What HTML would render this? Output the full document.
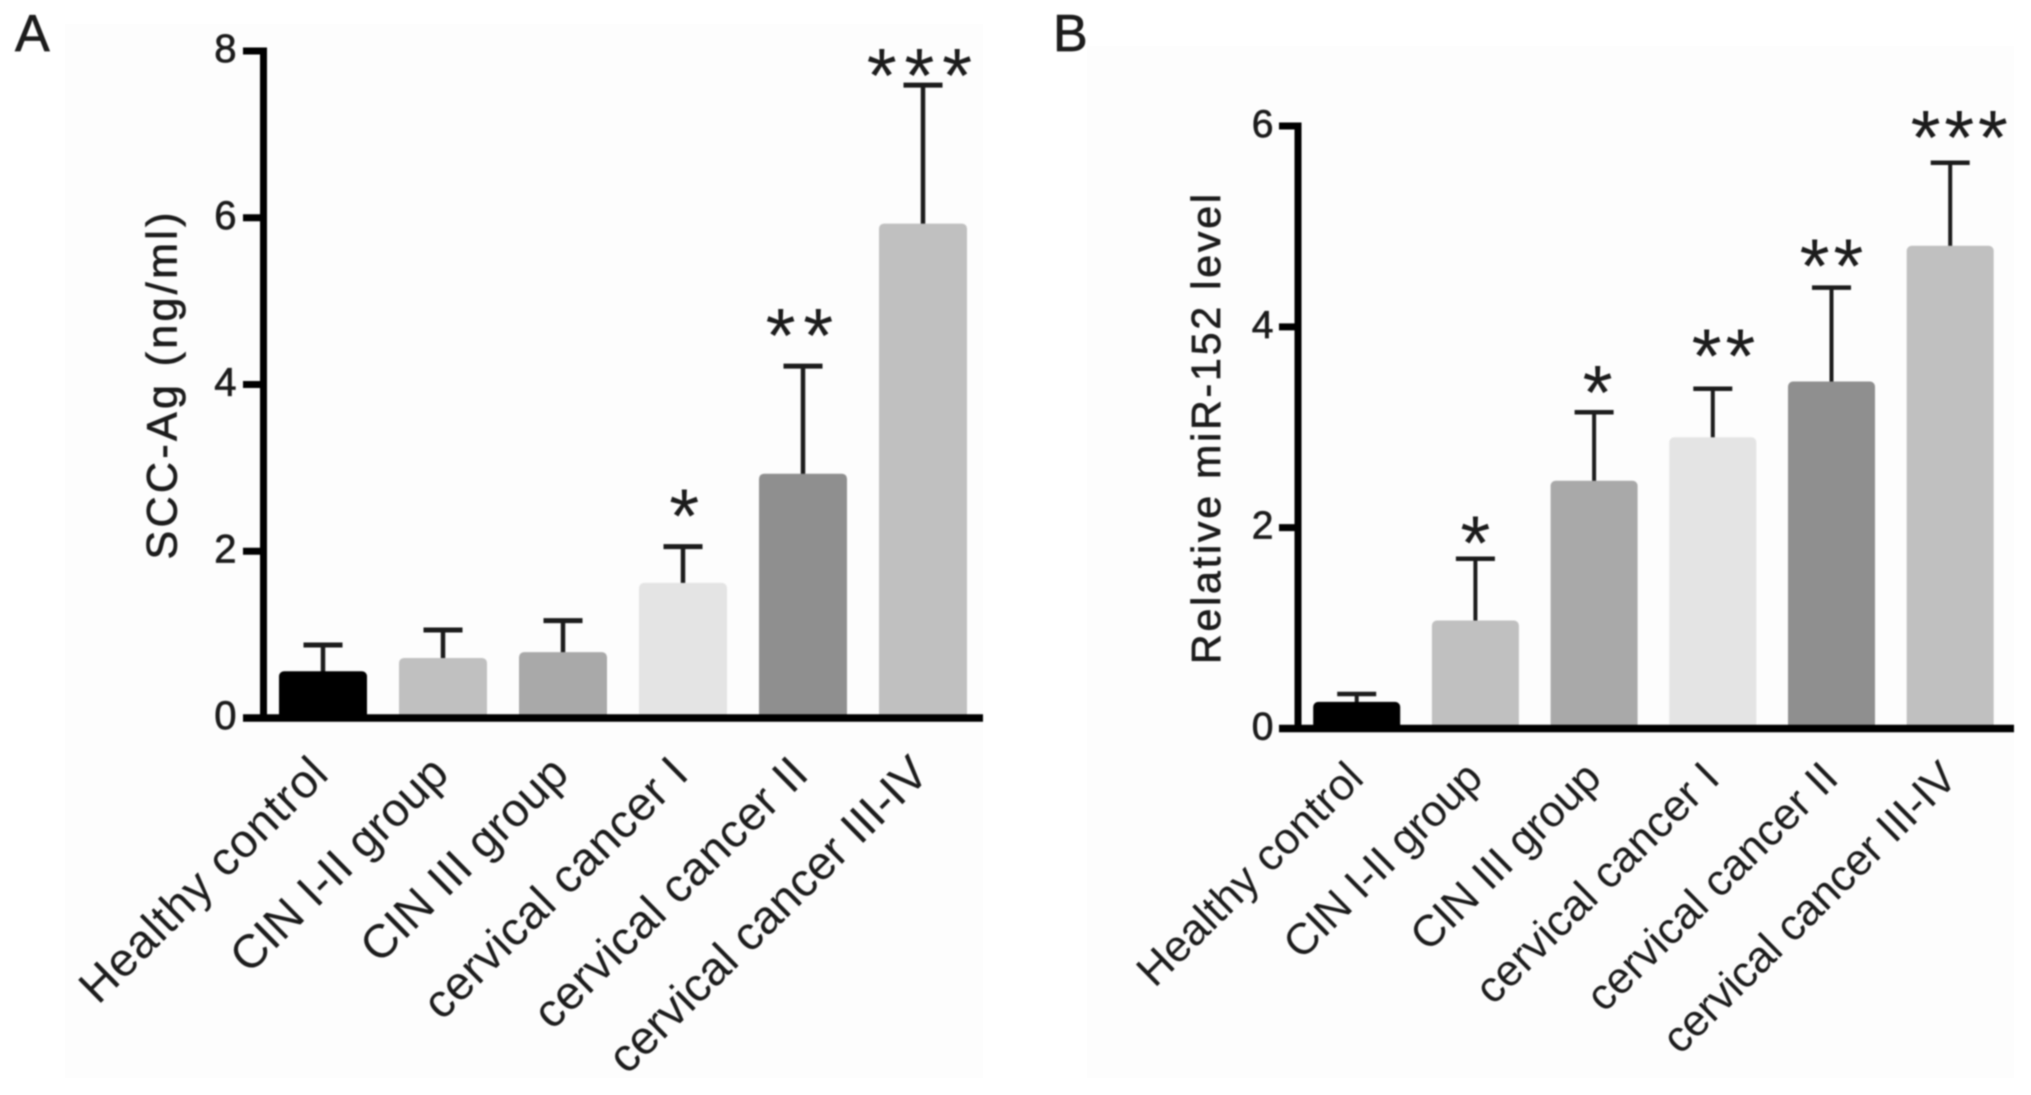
<!DOCTYPE html>
<html lang="en">
<head>
<meta charset="utf-8">
<title>SCC-Ag and miR-152 bar charts</title>
<style>
  html, body { margin: 0; padding: 0; background: #fff; width: 2031px; height: 1095px; overflow: hidden; }
  svg { display: block; position: absolute; left: 0; top: 0; }
  #plots { filter: blur(0.9px); }
  text { font-family: "Liberation Sans", Arial, sans-serif; fill: #1c1c1c; }
  .heavy { stroke: #1c1c1c; stroke-width: 0.7px; }
</style>
</head>
<body>
<svg id="bg" width="2031" height="1095">
  <rect x="65" y="24" width="918" height="1054" fill="#fdfdfd"></rect>
  <rect x="1087" y="46" width="927" height="1032" fill="#fdfdfd"></rect>
</svg>
<svg id="plots" width="2031" height="1095">
  <text class="heavy" x="15" y="51" font-size="52">A</text>
  <text class="heavy" x="1053" y="51" font-size="52">B</text>
  <g id="panelA"></g>
  <g id="panelB"></g>
</svg>
<script>
// ---- Data ----
const categories = ["Healthy control", "CIN I-II group", "CIN III group", "cervical cancer I", "cervical cancer II", "cervical cancer III-IV"];
const barFills = ["#000000", "#c0c0c0", "#a9a9a9", "#e4e4e4", "#8f8f8f", "#c0c0c0"];

const ticksA = [0, 2, 4, 6, 8];
const meansA = [0.56, 0.72, 0.79, 1.62, 2.93, 5.93];
const errorTopsA = [0.875, 1.055, 1.168, 2.056, 4.22, 7.59];
const significanceA = ["", "", "", "*", "**", "***"];
const sigLiftA = [0, 0, 0, 0.5, 0.5, 0.25];    // gap above the error bar, in axis units
const sigShiftA = [0, 0, 0, 0.01, -0.03, -0.03]; // sideways shift, in category widths
const labelTrackingA = [0.9, 0.1, 0.2, 0.6, 0.6, 0.05];
const titleA = "SCC-Ag (ng/ml)";

const ticksB = [0, 2, 4, 6];
const meansB = [0.265, 1.075, 2.467, 2.9, 3.455, 4.807];
const errorTopsB = [0.344, 1.69, 3.15, 3.384, 4.39, 5.634];
const significanceB = ["", "*", "*", "**", "**", "***"];
const sigLiftB = [0, 0.27, 0.31, 0.435, 0.33, 0.365];
const sigShiftB = [0, 0, 0.03, 0.09, 0, 0.076];
const labelTrackingB = [0.2, -0.5, -0.3, 0.2, 0.1, -0.3];
const titleB = "Relative miR-152 level";

// ---- Axis functions ----
function yA(v) { return 718 - v * (718 - 51) / 8; }
function xA(i) { return 323 + i * 120; }
function yB(v) { return 728.5 - v * (728.5 - 126) / 6; }
function xB(i) { return 1356.7 + i * 118.7; }

const NS = "http://www.w3.org/2000/svg";
function make(parent, tag, attrs, txt) {
  const el = document.createElementNS(NS, tag);
  for (const k in attrs) el.setAttribute(k, attrs[k]);
  if (txt !== undefined) el.textContent = txt;
  parent.appendChild(el);
  return el;
}

function drawPanel(root, prefix, opt) {
  const axisX = opt.axisX, y = opt.y, x = opt.x, base = y(0);
  const step = x(1) - x(0);

  // error bars sit behind the bars
  categories.forEach(function (cat, i) {
    const line = make(root, "line", { x1: x(i), x2: x(i), y1: y(opt.means[i]) + 4, y2: y(opt.errors[i]), stroke: "#1c1c1c", "stroke-width": opt.stemWidth });
    
    
    const cap = make(root, "line", { x1: x(i) - 19.5, x2: x(i) + 19.5, y1: y(opt.errors[i]), y2: y(opt.errors[i]), stroke: "#1c1c1c", "stroke-width": opt.capWidth });
    
    
  });

  // bars
  categories.forEach(function (cat, i) {
    const bar = make(root, "rect", { x: x(i) - opt.barWidth / 2, y: y(opt.means[i]), width: opt.barWidth, height: base - y(opt.means[i]) + 2, rx: 5, fill: barFills[i] });
    
    
  });

  // axis lines
  const yAxis = make(root, "line", { x1: axisX, x2: axisX, y1: y(opt.ticks[opt.ticks.length - 1]) - 3.5, y2: base, stroke: "#000", "stroke-width": 7 });
  
  
  const xAxis = make(root, "line", { x1: opt.tickStart, x2: opt.axisEnd, y1: base, y2: base, stroke: "#000", "stroke-width": 7.5 });
  
  

  // ticks and tick labels
  opt.ticks.forEach(function (t) {
    const tick = make(root, "line", { x1: opt.tickStart, x2: axisX, y1: y(t), y2: y(t), stroke: "#000", "stroke-width": 7 });
    
    
    const lab = make(root, "text", { x: opt.tickLabelX, y: y(t) + 11, "font-size": opt.tickFont, "text-anchor": "end", "class": "heavy" }, String(t));
    
    
  });

  // y title
  const title = make(root, "text", { transform: "translate(" + opt.titleX + "," + opt.titleY + ") rotate(-90)", "font-size": opt.titleFont, "text-anchor": "middle", textLength: opt.titleLength, lengthAdjust: "spacing", "class": "heavy" }, opt.title);
  
  

  // category labels
  categories.forEach(function (cat, i) {
    const lab = make(root, "text", { transform: "translate(" + (x(i) + opt.labelDx) + "," + (base + opt.labelDy) + ") rotate(-44.6)", "font-size": opt.labelFont, "text-anchor": "end", "letter-spacing": opt.labelTracking[i] }, cat);
    
    
  });

  // significance stars
  categories.forEach(function (cat, i) {
    if (!opt.sig[i]) return;
    const star = make(root, "text", { x: x(i) + opt.sigShift[i] * step + opt.starSpacing / 2, y: y(opt.errors[i] + opt.sigLift[i]) + opt.starFont * 0.49, "font-size": opt.starFont, "text-anchor": "middle", "letter-spacing": opt.starSpacing }, opt.sig[i]);
    
    
  });
}

drawPanel(document.getElementById("panelA"), "panel-a", {
  axisX: 263.5, tickStart: 243, axisEnd: 983, x: xA, y: yA, ticks: ticksA, means: meansA, errors: errorTopsA,
  sig: significanceA, sigLift: sigLiftA, sigShift: sigShiftA,
  barWidth: 88, stemWidth: 4.5, capWidth: 5,
  title: titleA, titleX: 176.5, titleY: 386, titleFont: 43, titleLength: 347,
  tickLabelX: 236.5, tickFont: 40, labelDx: 8, labelDy: 58, labelFont: 47, labelTracking: labelTrackingA,
  starFont: 77, starSpacing: 7.7
});

drawPanel(document.getElementById("panelB"), "panel-b", {
  axisX: 1298, tickStart: 1279, axisEnd: 2014, x: xB, y: yB, ticks: ticksB, means: meansB, errors: errorTopsB,
  sig: significanceB, sigLift: sigLiftB, sigShift: sigShiftB,
  barWidth: 87, stemWidth: 4, capWidth: 4.5,
  title: titleB, titleX: 1220, titleY: 429, titleFont: 41, titleLength: 470,
  tickLabelX: 1273.5, tickFont: 39, labelDx: 9, labelDy: 52, labelFont: 44, labelTracking: labelTrackingB,
  starFont: 77, starSpacing: 3.7
});
</script>
</body>
</html>
